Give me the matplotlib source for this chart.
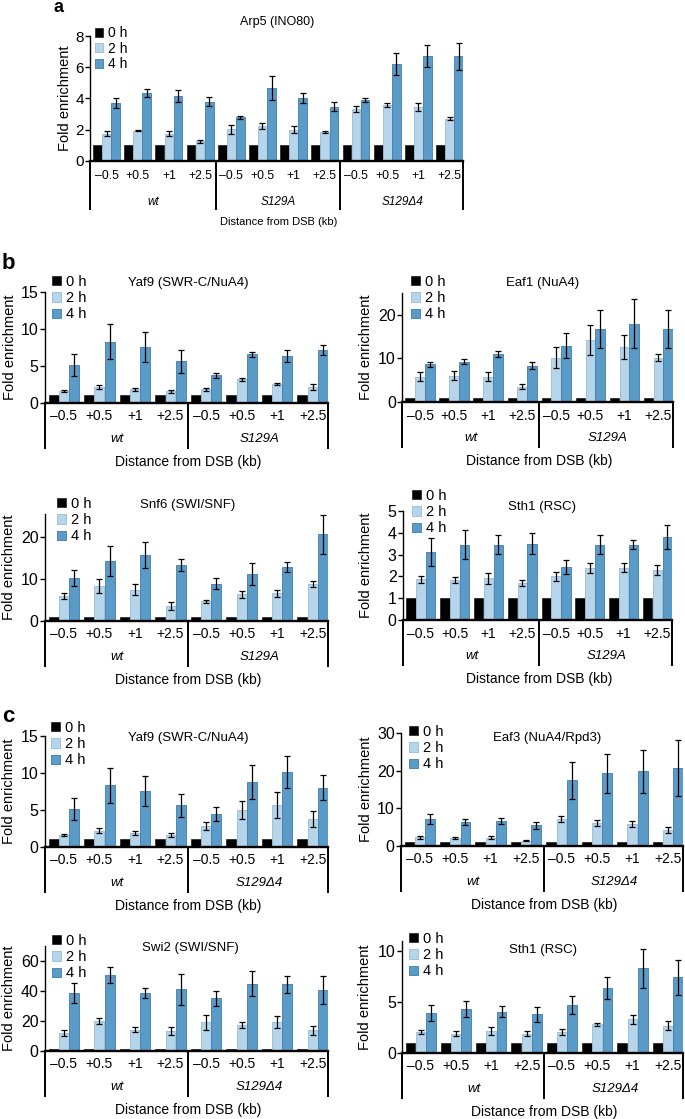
"""Fold enrichment of remodeller subunits around the DSB."""
import numpy as np
import matplotlib
matplotlib.use('Agg')
import matplotlib.pyplot as plt
import matplotlib.transforms as mtransforms

plt.rcParams['font.family'] = ['Liberation Sans', 'DejaVu Sans']

W, H = 685, 1119

sites = ['\u20130.5', '+0.5', '+1', '+2.5']
times = ['0 h', '2 h', '4 h']
bar_colors = ['#000000', '#b7d5ea', '#5b9bc8']
bar_edges = ['#000000', '#93bcdb', '#3f7cab']

# ---- panel a: Arp5 (INO80)
arp5_strains = ['wt', 'S129A', 'S129\u03944']
arp5_0h = [1, 1, 1, 1, 1, 1, 1, 1, 1, 1, 1, 1]
arp5_2h = [1.74, 1.95, 1.75, 1.25, 2.02, 2.25, 2.0, 1.85, 3.31, 3.57, 3.48, 2.7]
arp5_2h_err = [0.15, 0.05, 0.15, 0.08, 0.28, 0.2, 0.22, 0.08, 0.18, 0.12, 0.25, 0.1]
arp5_4h = [3.72, 4.35, 4.16, 3.8, 2.8, 4.69, 4.03, 3.48, 3.9, 6.22, 6.7, 6.7]
arp5_4h_err = [0.3, 0.28, 0.4, 0.28, 0.1, 0.78, 0.35, 0.28, 0.12, 0.7, 0.7, 0.85]

# ---- panel b
b_strains = ['wt', 'S129A']
yaf9b_0h = [1, 1, 1, 1, 1, 1, 1, 1]
yaf9b_2h = [1.63, 2.17, 1.81, 1.54, 1.81, 3.17, 2.49, 2.13]
yaf9b_2h_err = [0.15, 0.3, 0.25, 0.25, 0.2, 0.25, 0.12, 0.35]
yaf9b_4h = [5.07, 8.3, 7.57, 5.6, 3.72, 6.57, 6.34, 7.16]
yaf9b_4h_err = [1.5, 2.4, 2.0, 1.6, 0.3, 0.35, 0.8, 0.65]

eaf1_0h = [1, 1, 1, 1, 1, 1, 1, 1]
eaf1_2h = [5.82, 6.05, 5.82, 3.52, 10.19, 14.25, 12.57, 10.19]
eaf1_2h_err = [1.0, 1.0, 1.0, 0.6, 2.4, 3.4, 2.8, 0.8]
eaf1_4h = [8.66, 9.27, 10.96, 8.35, 12.95, 16.7, 18.0, 16.7]
eaf1_4h_err = [0.6, 0.6, 0.7, 0.8, 2.9, 4.4, 5.6, 4.4]

snf6_0h = [1, 1, 1, 1, 1, 1, 1, 1]
snf6_2h = [5.8, 8.33, 7.38, 3.49, 4.6, 6.27, 6.5, 8.65]
snf6_2h_err = [0.7, 1.7, 1.3, 0.9, 0.4, 0.8, 0.8, 0.7]
snf6_4h = [10.16, 14.2, 15.63, 13.33, 8.8, 11.03, 12.86, 20.6]
snf6_4h_err = [2.0, 3.5, 3.2, 1.4, 1.3, 2.6, 1.2, 4.6]

sth1b_0h = [1, 1, 1, 1, 1, 1, 1, 1]
sth1b_2h = [1.87, 1.83, 1.91, 1.71, 2.0, 2.37, 2.4, 2.28]
sth1b_2h_err = [0.17, 0.13, 0.25, 0.13, 0.2, 0.23, 0.2, 0.23]
sth1b_4h = [3.12, 3.46, 3.46, 3.49, 2.45, 3.46, 3.46, 3.8]
sth1b_4h_err = [0.65, 0.65, 0.45, 0.48, 0.32, 0.45, 0.2, 0.55]

# ---- panel c
c_strains = ['wt', 'S129\u03944']
yaf9c_0h = [1, 1, 1, 1, 1, 1, 1, 1]
yaf9c_2h = [1.63, 2.17, 1.81, 1.54, 2.8, 4.93, 5.65, 3.75]
yaf9c_2h_err = [0.15, 0.3, 0.25, 0.25, 0.5, 1.2, 1.7, 1.1]
yaf9c_4h = [5.07, 8.3, 7.57, 5.6, 4.43, 8.72, 10.12, 8.0]
yaf9c_4h_err = [1.5, 2.4, 2.0, 1.6, 1.0, 2.3, 2.2, 1.7]

eaf3_0h = [1, 1, 1, 1, 1, 1, 1, 1]
eaf3_2h = [2.23, 2.05, 2.14, 1.34, 7.12, 6.05, 5.88, 4.19]
eaf3_2h_err = [0.4, 0.2, 0.4, 0.15, 0.7, 0.7, 0.8, 0.9]
eaf3_4h = [7.12, 6.32, 6.59, 5.43, 17.36, 19.23, 19.77, 20.66]
eaf3_4h_err = [1.3, 0.9, 0.7, 1.0, 4.8, 5.3, 5.8, 7.4]

swi2_0h = [1, 1, 1, 1, 1, 1, 1, 1]
swi2_2h = [12.0, 19.6, 14.0, 13.2, 19.0, 17.0, 19.0, 13.6]
swi2_2h_err = [2.0, 2.0, 1.6, 2.5, 5.0, 2.0, 4.0, 3.0]
swi2_4h = [38.6, 50.4, 38.6, 41.0, 35.0, 44.8, 44.4, 40.6]
swi2_4h_err = [6.5, 5.3, 3.5, 10.5, 5.2, 8.5, 5.6, 9.3]

sth1c_0h = [1, 1, 1, 1, 1, 1, 1, 1]
sth1c_2h = [2.0, 1.87, 2.1, 1.87, 2.0, 2.79, 3.28, 2.66]
sth1c_2h_err = [0.2, 0.25, 0.4, 0.25, 0.3, 0.15, 0.45, 0.45]
sth1c_4h = [3.93, 4.3, 4.03, 3.77, 4.72, 6.36, 8.3, 7.41]
sth1c_4h_err = [0.8, 0.8, 0.55, 0.7, 0.9, 1.1, 1.9, 1.7]

fig = plt.figure(figsize=(W / 100, H / 100), dpi=100)

BIG = dict(tick=11, xtick=8.8, group=8.5, xlabel=8, ylabel=10.5, title=9,
           legend=10, lspace=0.12, off=(15, 41, 49, 61))
NORM = dict(tick=11.5, xtick=10, group=9.5, xlabel=10, ylabel=10.5, title=9.5,
            legend=10.5, lspace=0.15, off=(13.5, 36, 46, 59))


def panel(box, strains, vals, ymax, yticks, title, title_pos, leg_pos, ylab_x, st):
    left, right, top, zero = box
    ax = fig.add_axes([left / W, 1 - zero / H, (right - left) / W, (zero - top) / H])
    v0, v2, e2, v4, e4 = vals
    n = len(v0)
    x = np.arange(n)
    w, d = 0.28, 0.29
    ekw = dict(elinewidth=0.9, capsize=2, capthick=0.9, ecolor='black')
    b0 = ax.bar(x - d, v0, w, color=bar_colors[0], edgecolor=bar_edges[0], lw=0.4)
    b2 = ax.bar(x, v2, w, yerr=e2, color=bar_colors[1], edgecolor=bar_edges[1],
                lw=0.6, error_kw=ekw)
    b4 = ax.bar(x + d, v4, w, yerr=e4, color=bar_colors[2], edgecolor=bar_edges[2],
                lw=0.6, error_kw=ekw)
    x0, x1 = -0.53, n - 1 + 0.43
    ax.set_xlim(x0, x1)
    ax.set_ylim(0, ymax)
    ax.set_yticks(yticks)
    for s in ('top', 'right'):
        ax.spines[s].set_visible(False)
    ax.spines['bottom'].set_linewidth(1.7)
    ax.spines['left'].set_linewidth(1.0)
    ax.tick_params(axis='y', labelsize=st['tick'], length=3.5, width=1.0, pad=1)
    ax.set_xticks([])

    t_off, g_off, l_off, x_off = st['off']
    tr = mtransforms.blended_transform_factory(ax.transData, fig.transFigure)
    labels = sites * len(strains)
    for xi, lab in zip(x, labels):
        ax.text(xi, 1 - (zero + t_off) / H, lab, transform=tr, ha='center',
                va='center', fontsize=st['xtick'])
    for k, name in enumerate(strains):
        ax.text(4 * k + 1.5, 1 - (zero + g_off) / H, name, transform=tr,
                ha='center', va='center', fontsize=st['group'], style='italic')
    for xd in [x0] + [4 * k - 0.5 for k in range(1, len(strains))] + [x1]:
        ax.plot([xd, xd], [1 - zero / H, 1 - (zero + l_off) / H], transform=tr,
                color='black', lw=1.4, clip_on=False, solid_capstyle='butt')
    fig.text((left + right) / 2 / W + 2 / W, 1 - (zero + x_off) / H,
             'Distance from DSB (kb)', ha='center', va='center', fontsize=st['xlabel'])
    fig.text(ylab_x / W, 1 - (top + zero) / 2 / H, 'Fold enrichment', rotation=90,
             ha='center', va='center', fontsize=st['ylabel'])
    fig.text(title_pos[0] / W, 1 - title_pos[1] / H, title, ha='center',
             va='center', fontsize=st['title'])
    ax.legend([b0, b2, b4], times, loc='upper left',
              bbox_to_anchor=(leg_pos[0] / W, 1 - leg_pos[1] / H),
              bbox_transform=fig.transFigure, frameon=False, borderpad=0,
              borderaxespad=0, handlelength=0.6, handleheight=0.6,
              handletextpad=0.35, labelspacing=st['lspace'], fontsize=st['legend'])
    return ax


panel((90, 463, 36, 161), arp5_strains,
      (arp5_0h, arp5_2h, arp5_2h_err, arp5_4h, arp5_4h_err),
      8, [0, 2, 4, 6, 8], 'Arp5 (INO80)', (277, 22), (95, 26), 65, BIG)

panel((45, 328, 292.3, 402.7), b_strains,
      (yaf9b_0h, yaf9b_2h, yaf9b_2h_err, yaf9b_4h, yaf9b_4h_err),
      15, [0, 5, 10, 15], 'Yaf9 (SWR-C/NuA4)', (188, 283), (52, 275), 10, NORM)
panel((402, 673, 293, 402), b_strains,
      (eaf1_0h, eaf1_2h, eaf1_2h_err, eaf1_4h, eaf1_4h_err),
      25, [0, 10, 20], 'Eaf1 (NuA4)', (543, 283), (411, 275), 366, NORM)
panel((45, 328, 513.6, 620.7), b_strains,
      (snf6_0h, snf6_2h, snf6_2h_err, snf6_4h, snf6_4h_err),
      25.5, [0, 10, 20], 'Snf6 (SWI/SNF)', (188, 505), (57, 497), 9, NORM)
panel((403, 672, 511, 620), b_strains,
      (sth1b_0h, sth1b_2h, sth1b_2h_err, sth1b_4h, sth1b_4h_err),
      5, [0, 1, 2, 3, 4, 5], 'Sth1 (RSC)', (542, 507), (412, 489), 366, NORM)

panel((45, 328, 736, 846.7), c_strains,
      (yaf9c_0h, yaf9c_2h, yaf9c_2h_err, yaf9c_4h, yaf9c_4h_err),
      15, [0, 5, 10, 15], 'Yaf9 (SWR-C/NuA4)', (188, 738), (51, 721), 9, NORM)
panel((401, 683, 733, 845.7), c_strains,
      (eaf3_0h, eaf3_2h, eaf3_2h_err, eaf3_4h, eaf3_4h_err),
      30, [0, 10, 20, 30], 'Eaf3 (NuA4/Rpd3)', (547, 738), (409, 725), 366, NORM)
panel((45, 328, 946, 1050.7), c_strains,
      (swi2_0h, swi2_2h, swi2_2h_err, swi2_4h, swi2_4h_err),
      70, [0, 20, 40, 60], 'Swi2 (SWI/SNF)', (190, 948), (52, 934), 9, NORM)
panel((402, 683, 941, 1052.7), c_strains,
      (sth1c_0h, sth1c_2h, sth1c_2h_err, sth1c_4h, sth1c_4h_err),
      11, [0, 5, 10], 'Sth1 (RSC)', (543, 950), (409, 932), 365, NORM)

fig.text(58 / W, 1 - 8 / H, 'a', fontsize=13, fontweight='bold', ha='center', va='center')
fig.text(8 / W, 1 - 264 / H, 'b', fontsize=16, fontweight='bold', ha='center', va='center')
fig.text(8 / W, 1 - 716 / H, 'c', fontsize=16, fontweight='bold', ha='center', va='center')

fig.savefig('out.png', dpi=100)
